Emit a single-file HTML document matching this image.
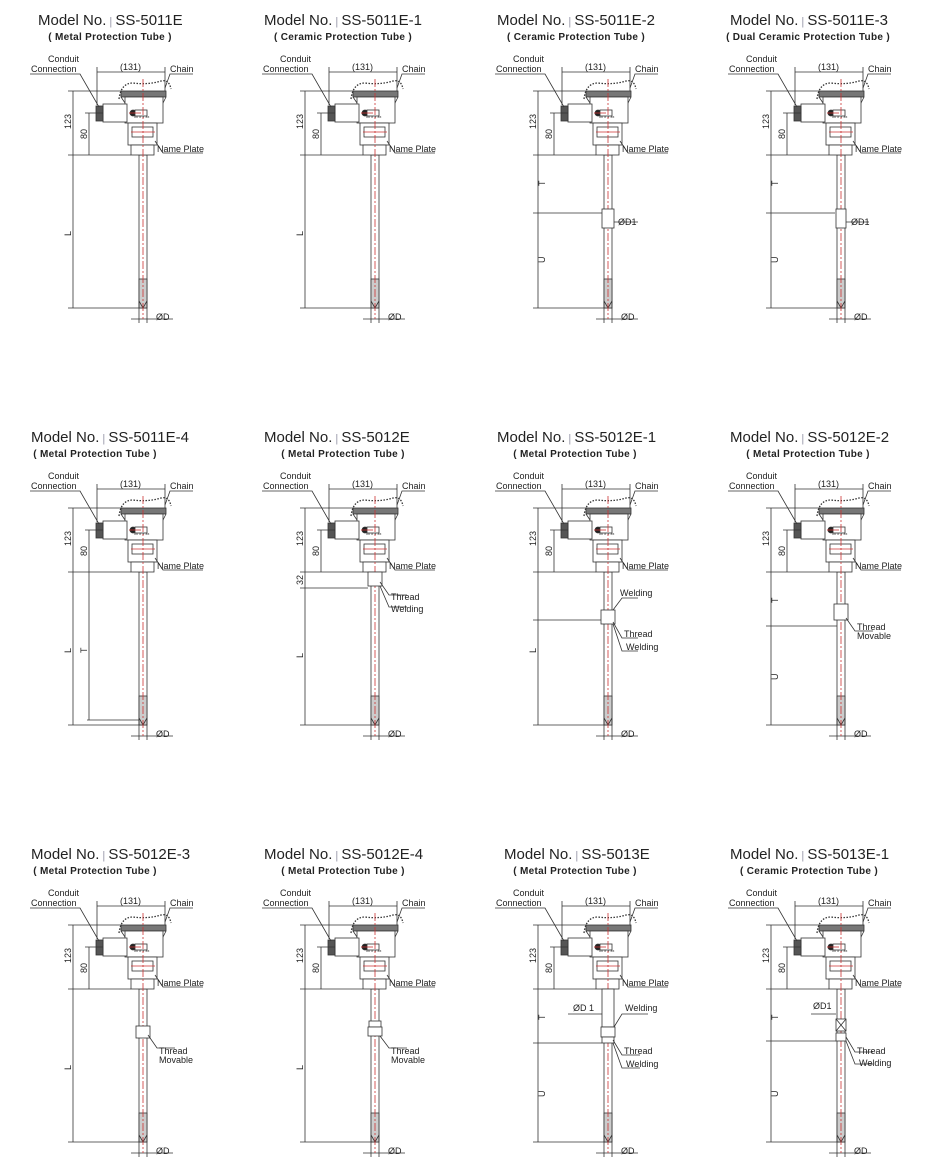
<!DOCTYPE html>
<html><head><meta charset="utf-8"><style>
html,body{margin:0;padding:0;background:#fff;width:933px;height:1176px;overflow:hidden}
svg{display:block}
text{font-family:"Liberation Sans",Arial,sans-serif;fill:#222}
g[stroke] path{fill:none}
.t{font-size:15px}
.s{font-size:10px;font-weight:bold;letter-spacing:.3px}
.l{font-size:9px}
</style></head><body>
<svg width="933" height="1176" viewBox="0 0 933 1176" xmlns="http://www.w3.org/2000/svg">
<defs>
<g id="head" fill="none" stroke="#333" stroke-width="0.8">
  <path d="M-24,8 Q-22,-8 -10,-8 Q5,-6 18,-10 Q26,-12 28,-2" stroke-dasharray="1.5,1.5" stroke-width="1.3"/>
  <rect x="-22" y="0" width="45" height="6" fill="#777"/>
  <path d="M-22,6 L-18,12 L20,12 L23,6"/>
  <rect x="-18" y="6" width="38" height="26" fill="#fff"/>
  <text x="-9" y="27" style="font-size:4px" stroke="none">xx x x  xx</text>
  <rect x="-40" y="13" width="24" height="18" fill="#fff"/>
  <rect x="-47" y="15" width="7" height="15" fill="#555"/>
  <circle cx="-10" cy="22" r="3" fill="#222"/>
  <rect x="-8" y="19" width="12" height="6" fill="#fff"/>
  <rect x="-15" y="32" width="29" height="22" fill="#fff"/>
  <rect x="-11" y="36" width="21" height="10" fill="#fff"/>
  <rect x="-12" y="54" width="23" height="10" fill="#fff"/>
  <line x1="-75" y1="0" x2="-22" y2="0"/>
  <line x1="-75" y1="64" x2="-12" y2="64"/>
  <line x1="-70" y1="0" x2="-70" y2="64"/>
  <line x1="-58" y1="22" x2="-40" y2="22"/>
  <line x1="-54" y1="22" x2="-54" y2="64"/>
  <line x1="-46" y1="-24" x2="-46" y2="14"/>
  <line x1="22" y1="-24" x2="22" y2="0"/>
  <line x1="-46" y1="-19" x2="22" y2="-19"/>
  <path d="M-113,-17 L-63,-17 L-44,16"/>
  <path d="M50,-17 L27,-17 L22,-3"/>
  <path d="M12,50 L20,62 L60,62"/>
  <line x1="-4" y1="210" x2="-4" y2="232"/>
  <line x1="4" y1="210" x2="4" y2="232"/>
  <line x1="-12" y1="228" x2="30" y2="228"/>
  <line x1="-75" y1="217" x2="-4" y2="217"/>
</g>
<g id="tube" fill="none" stroke="#333" stroke-width="0.8">
  <rect x="-4" y="64" width="8" height="153" fill="#fff"/>
  <rect x="-4" y="188" width="8" height="29" fill="#ccc"/>
  <path d="M-4,210 L0,217 L4,210"/>
</g>
<g id="cl"><line x1="0" y1="-12" x2="0" y2="228" stroke="#c33" stroke-width="0.8" stroke-dasharray="8,2,2,2"/>
<line x1="-14" y1="22" x2="-2" y2="22" stroke="#c33" stroke-width="0.8"/>
<line x1="-12" y1="41" x2="12" y2="41" stroke="#c33" stroke-width="0.8"/></g>
</defs>

<g transform="translate(143,91)">
 <use href="#tube"/><use href="#head"/><use href="#cl"/>
 <line x1="-70" y1="64" x2="-70" y2="217" stroke="#333" stroke-width="0.8"/>
 <text class="t" x="-105" y="-66">Model No.<tspan fill="#99a" font-size="11"> | </tspan>SS-5011E</text>
 <text class="s" x="-33" y="-51" text-anchor="middle">( Metal Protection Tube )</text>
 <text class="l" x="-95" y="-29">Conduit</text><text class="l" x="-112" y="-19">Connection</text>
 <text class="l" x="-23" y="-21">(131)</text><text class="l" x="27" y="-19">Chain</text>
 <text class="l" x="14" y="61">Name Plate</text><text class="l" x="13" y="229">ØD</text>
 <text class="l" transform="translate(-72,38) rotate(-90)">123</text>
 <text class="l" transform="translate(-56,48) rotate(-90)">80</text>
 <text class="l" transform="translate(-72,145) rotate(-90)">L</text>
</g>
<g transform="translate(375,91)">
 <use href="#tube"/><use href="#head"/><use href="#cl"/>
 <line x1="-70" y1="64" x2="-70" y2="217" stroke="#333" stroke-width="0.8"/>
 <text class="t" x="-111" y="-66">Model No.<tspan fill="#99a" font-size="11"> | </tspan>SS-5011E-1</text>
 <text class="s" x="-32" y="-51" text-anchor="middle">( Ceramic Protection Tube )</text>
 <text class="l" x="-95" y="-29">Conduit</text><text class="l" x="-112" y="-19">Connection</text>
 <text class="l" x="-23" y="-21">(131)</text><text class="l" x="27" y="-19">Chain</text>
 <text class="l" x="14" y="61">Name Plate</text><text class="l" x="13" y="229">ØD</text>
 <text class="l" transform="translate(-72,38) rotate(-90)">123</text>
 <text class="l" transform="translate(-56,48) rotate(-90)">80</text>
 <text class="l" transform="translate(-72,145) rotate(-90)">L</text>
</g>
<g transform="translate(608,91)">
 <use href="#tube"/><use href="#head"/><use href="#cl"/>
 <rect x="-6" y="118" width="12" height="19" fill="#fff" stroke="#333" stroke-width="0.8"/>
 <g stroke="#333" stroke-width="0.8"><line x1="-70" y1="64" x2="-70" y2="217"/><line x1="-75" y1="122" x2="-6" y2="122"/><line x1="6" y1="131" x2="30" y2="131"/></g>
 <text class="t" x="-111" y="-66">Model No.<tspan fill="#99a" font-size="11"> | </tspan>SS-5011E-2</text>
 <text class="s" x="-32" y="-51" text-anchor="middle">( Ceramic Protection Tube )</text>
 <text class="l" x="-95" y="-29">Conduit</text><text class="l" x="-112" y="-19">Connection</text>
 <text class="l" x="-23" y="-21">(131)</text><text class="l" x="27" y="-19">Chain</text>
 <text class="l" x="14" y="61">Name Plate</text><text class="l" x="13" y="229">ØD</text>
 <text class="l" x="10" y="134">ØD1</text>
 <text class="l" transform="translate(-72,38) rotate(-90)">123</text>
 <text class="l" transform="translate(-56,48) rotate(-90)">80</text>
 <text class="l" transform="translate(-63,95) rotate(-90)">T</text>
 <text class="l" transform="translate(-63,172) rotate(-90)">U</text>
</g>
<g transform="translate(841,91)">
 <use href="#tube"/><use href="#head"/><use href="#cl"/>
 <rect x="-5" y="118" width="10" height="19" fill="#fff" stroke="#333" stroke-width="0.8"/>
 <g stroke="#333" stroke-width="0.8"><line x1="-70" y1="64" x2="-70" y2="217"/><line x1="-75" y1="122" x2="-6" y2="122"/><line x1="5" y1="131" x2="28" y2="131"/></g>
 <text class="t" x="-111" y="-66">Model No.<tspan fill="#99a" font-size="11"> | </tspan>SS-5011E-3</text>
 <text class="s" x="-33" y="-51" text-anchor="middle">( Dual Ceramic Protection Tube )</text>
 <text class="l" x="-95" y="-29">Conduit</text><text class="l" x="-112" y="-19">Connection</text>
 <text class="l" x="-23" y="-21">(131)</text><text class="l" x="27" y="-19">Chain</text>
 <text class="l" x="14" y="61">Name Plate</text><text class="l" x="13" y="229">ØD</text>
 <text class="l" x="10" y="134">ØD1</text>
 <text class="l" transform="translate(-72,38) rotate(-90)">123</text>
 <text class="l" transform="translate(-56,48) rotate(-90)">80</text>
 <text class="l" transform="translate(-63,95) rotate(-90)">T</text>
 <text class="l" transform="translate(-63,172) rotate(-90)">U</text>
</g>

<g transform="translate(143,508)">
 <use href="#tube"/><use href="#head"/><use href="#cl"/>
 <g stroke="#333" stroke-width="0.8"><line x1="-70" y1="64" x2="-70" y2="217"/><line x1="-54" y1="64" x2="-54" y2="212"/><line x1="-56" y1="212" x2="-4" y2="212"/></g>
 <text class="t" x="-112" y="-66">Model No.<tspan fill="#99a" font-size="11"> | </tspan>SS-5011E-4</text>
 <text class="s" x="-48" y="-51" text-anchor="middle">( Metal Protection Tube )</text>
 <text class="l" x="-95" y="-29">Conduit</text><text class="l" x="-112" y="-19">Connection</text>
 <text class="l" x="-23" y="-21">(131)</text><text class="l" x="27" y="-19">Chain</text>
 <text class="l" x="14" y="61">Name Plate</text><text class="l" x="13" y="229">ØD</text>
 <text class="l" transform="translate(-72,38) rotate(-90)">123</text>
 <text class="l" transform="translate(-56,48) rotate(-90)">80</text>
 <text class="l" transform="translate(-72,145) rotate(-90)">L</text>
 <text class="l" transform="translate(-56,145) rotate(-90)">T</text>
</g>
<g transform="translate(375,508)">
 <use href="#tube"/><use href="#head"/><use href="#cl"/>
 <rect x="-7" y="64" width="14" height="14" fill="#fff" stroke="#333" stroke-width="0.8"/>
 <g stroke="#333" stroke-width="0.8"><line x1="-70" y1="64" x2="-70" y2="217"/><line x1="-75" y1="80" x2="-7" y2="80"/><path d="M5,74 L14,87 L32,87"/><path d="M5,78 L14,99 L32,99"/></g>
 <text class="t" x="-111" y="-66">Model No.<tspan fill="#99a" font-size="11"> | </tspan>SS-5012E</text>
 <text class="s" x="-32" y="-51" text-anchor="middle">( Metal Protection Tube )</text>
 <text class="l" x="-95" y="-29">Conduit</text><text class="l" x="-112" y="-19">Connection</text>
 <text class="l" x="-23" y="-21">(131)</text><text class="l" x="27" y="-19">Chain</text>
 <text class="l" x="14" y="61">Name Plate</text><text class="l" x="13" y="229">ØD</text>
 <text class="l" x="16" y="92">Thread</text><text class="l" x="16" y="104">Welding</text>
 <text class="l" transform="translate(-72,38) rotate(-90)">123</text>
 <text class="l" transform="translate(-72,77) rotate(-90)">32</text>
 <text class="l" transform="translate(-56,48) rotate(-90)">80</text>
 <text class="l" transform="translate(-72,150) rotate(-90)">L</text>
</g>
<g transform="translate(608,508)">
 <use href="#tube"/><use href="#head"/><use href="#cl"/>
 <rect x="-7" y="102" width="14" height="14" fill="#fff" stroke="#333" stroke-width="0.8"/>
 <g stroke="#333" stroke-width="0.8"><line x1="-70" y1="64" x2="-70" y2="217"/><line x1="-75" y1="112" x2="-7" y2="112"/><path d="M30,90 L14,90 L5,102"/><path d="M5,114 L14,130 L30,130"/><path d="M5,116 L14,143 L30,143"/></g>
 <text class="t" x="-111" y="-66">Model No.<tspan fill="#99a" font-size="11"> | </tspan>SS-5012E-1</text>
 <text class="s" x="-33" y="-51" text-anchor="middle">( Metal Protection Tube )</text>
 <text class="l" x="-95" y="-29">Conduit</text><text class="l" x="-112" y="-19">Connection</text>
 <text class="l" x="-23" y="-21">(131)</text><text class="l" x="27" y="-19">Chain</text>
 <text class="l" x="14" y="61">Name Plate</text><text class="l" x="13" y="229">ØD</text>
 <text class="l" x="12" y="88">Welding</text><text class="l" x="16" y="129">Thread</text><text class="l" x="18" y="142">Welding</text>
 <text class="l" transform="translate(-72,38) rotate(-90)">123</text>
 <text class="l" transform="translate(-56,48) rotate(-90)">80</text>
 <text class="l" transform="translate(-72,145) rotate(-90)">L</text>
</g>
<g transform="translate(841,508)">
 <use href="#tube"/><use href="#head"/><use href="#cl"/>
 <rect x="-7" y="96" width="14" height="16" fill="#fff" stroke="#333" stroke-width="0.8"/>
 <g stroke="#333" stroke-width="0.8"><line x1="-70" y1="64" x2="-70" y2="217"/><line x1="-75" y1="118" x2="-4" y2="118"/><path d="M5,110 L14,123 L32,123"/></g>
 <text class="t" x="-111" y="-66">Model No.<tspan fill="#99a" font-size="11"> | </tspan>SS-5012E-2</text>
 <text class="s" x="-33" y="-51" text-anchor="middle">( Metal Protection Tube )</text>
 <text class="l" x="-95" y="-29">Conduit</text><text class="l" x="-112" y="-19">Connection</text>
 <text class="l" x="-23" y="-21">(131)</text><text class="l" x="27" y="-19">Chain</text>
 <text class="l" x="14" y="61">Name Plate</text><text class="l" x="13" y="229">ØD</text>
 <text class="l" x="16" y="122">Thread</text><text class="l" x="16" y="131">Movable</text>
 <text class="l" transform="translate(-63,95) rotate(-90)">T</text>
 <text class="l" transform="translate(-63,172) rotate(-90)">U</text>
 <text class="l" transform="translate(-72,38) rotate(-90)">123</text>
 <text class="l" transform="translate(-56,48) rotate(-90)">80</text>
</g>

<g transform="translate(143,925)">
 <use href="#tube"/><use href="#head"/><use href="#cl"/>
 <rect x="-7" y="101" width="14" height="12" fill="#fff" stroke="#333" stroke-width="0.8"/>
 <g stroke="#333" stroke-width="0.8"><line x1="-70" y1="64" x2="-70" y2="217"/><path d="M5,110 L14,123 L32,123"/></g>
 <text class="t" x="-112" y="-66">Model No.<tspan fill="#99a" font-size="11"> | </tspan>SS-5012E-3</text>
 <text class="s" x="-48" y="-51" text-anchor="middle">( Metal Protection Tube )</text>
 <text class="l" x="-95" y="-29">Conduit</text><text class="l" x="-112" y="-19">Connection</text>
 <text class="l" x="-23" y="-21">(131)</text><text class="l" x="27" y="-19">Chain</text>
 <text class="l" x="14" y="61">Name Plate</text><text class="l" x="13" y="229">ØD</text>
 <text class="l" x="16" y="129">Thread</text><text class="l" x="16" y="138">Movable</text>
 <text class="l" transform="translate(-72,38) rotate(-90)">123</text>
 <text class="l" transform="translate(-56,48) rotate(-90)">80</text>
 <text class="l" transform="translate(-72,145) rotate(-90)">L</text>
</g>
<g transform="translate(375,925)">
 <use href="#tube"/><use href="#head"/><use href="#cl"/>
 <rect x="-6" y="96" width="12" height="6" fill="#fff" stroke="#333" stroke-width="0.8"/>
 <rect x="-7" y="102" width="14" height="9" fill="#fff" stroke="#333" stroke-width="0.8"/>
 <g stroke="#333" stroke-width="0.8"><line x1="-70" y1="64" x2="-70" y2="217"/><path d="M5,111 L14,123 L32,123"/></g>
 <text class="t" x="-111" y="-66">Model No.<tspan fill="#99a" font-size="11"> | </tspan>SS-5012E-4</text>
 <text class="s" x="-32" y="-51" text-anchor="middle">( Metal Protection Tube )</text>
 <text class="l" x="-95" y="-29">Conduit</text><text class="l" x="-112" y="-19">Connection</text>
 <text class="l" x="-23" y="-21">(131)</text><text class="l" x="27" y="-19">Chain</text>
 <text class="l" x="14" y="61">Name Plate</text><text class="l" x="13" y="229">ØD</text>
 <text class="l" x="16" y="129">Thread</text><text class="l" x="16" y="138">Movable</text>
 <text class="l" transform="translate(-72,38) rotate(-90)">123</text>
 <text class="l" transform="translate(-56,48) rotate(-90)">80</text>
 <text class="l" transform="translate(-72,145) rotate(-90)">L</text>
</g>
<g transform="translate(608,925)">
 <use href="#tube"/><use href="#head"/><use href="#cl"/>
 <rect x="-6" y="64" width="12" height="38" fill="#fff" stroke="#333" stroke-width="0.8"/>
 <rect x="-7" y="102" width="14" height="10" fill="#fff" stroke="#333" stroke-width="0.8"/>
 <rect x="-6" y="112" width="12" height="6" fill="#fff" stroke="#333" stroke-width="0.8"/>
 <g stroke="#333" stroke-width="0.8"><line x1="-70" y1="64" x2="-70" y2="217"/><line x1="-75" y1="118" x2="-6" y2="118"/><line x1="-40" y1="89" x2="-6" y2="89"/><path d="M40,89 L14,89 L6,102"/><path d="M5,115 L14,130 L32,130"/><path d="M5,118 L14,143 L32,143"/></g>
 <text class="t" x="-104" y="-66">Model No.<tspan fill="#99a" font-size="11"> | </tspan>SS-5013E</text>
 <text class="s" x="-33" y="-51" text-anchor="middle">( Metal Protection Tube )</text>
 <text class="l" x="-95" y="-29">Conduit</text><text class="l" x="-112" y="-19">Connection</text>
 <text class="l" x="-23" y="-21">(131)</text><text class="l" x="27" y="-19">Chain</text>
 <text class="l" x="14" y="61">Name Plate</text><text class="l" x="13" y="229">ØD</text>
 <text class="l" x="-35" y="86">ØD 1</text><text class="l" x="17" y="86">Welding</text>
 <text class="l" x="16" y="129">Thread</text><text class="l" x="18" y="142">Welding</text>
 <text class="l" transform="translate(-63,95) rotate(-90)">T</text>
 <text class="l" transform="translate(-63,172) rotate(-90)">U</text>
 <text class="l" transform="translate(-72,38) rotate(-90)">123</text>
 <text class="l" transform="translate(-56,48) rotate(-90)">80</text>
</g>
<g transform="translate(841,925)">
 <use href="#tube"/><use href="#head"/><use href="#cl"/>
 <rect x="-5" y="94" width="10" height="12" fill="#fff" stroke="#333" stroke-width="0.8"/>
 <path d="M-5,94 L5,106 M5,94 L-5,106" stroke="#333" stroke-width="0.8" fill="none"/>
 <rect x="-5" y="108" width="10" height="8" fill="#fff" stroke="#333" stroke-width="0.8"/>
 <g stroke="#333" stroke-width="0.8"><line x1="-70" y1="64" x2="-70" y2="217"/><line x1="-75" y1="116" x2="-5" y2="116"/><line x1="-30" y1="89" x2="-5" y2="89"/><path d="M5,112 L14,127 L32,127"/><path d="M5,116 L14,139 L32,139"/></g>
 <text class="t" x="-111" y="-66">Model No.<tspan fill="#99a" font-size="11"> | </tspan>SS-5013E-1</text>
 <text class="s" x="-32" y="-51" text-anchor="middle">( Ceramic Protection Tube )</text>
 <text class="l" x="-95" y="-29">Conduit</text><text class="l" x="-112" y="-19">Connection</text>
 <text class="l" x="-23" y="-21">(131)</text><text class="l" x="27" y="-19">Chain</text>
 <text class="l" x="14" y="61">Name Plate</text><text class="l" x="13" y="229">ØD</text>
 <text class="l" x="-28" y="84">ØD1</text>
 <text class="l" x="16" y="129">Thread</text><text class="l" x="18" y="141">Welding</text>
 <text class="l" transform="translate(-63,95) rotate(-90)">T</text>
 <text class="l" transform="translate(-63,172) rotate(-90)">U</text>
 <text class="l" transform="translate(-72,38) rotate(-90)">123</text>
 <text class="l" transform="translate(-56,48) rotate(-90)">80</text>
</g>
</svg>
</body></html>
